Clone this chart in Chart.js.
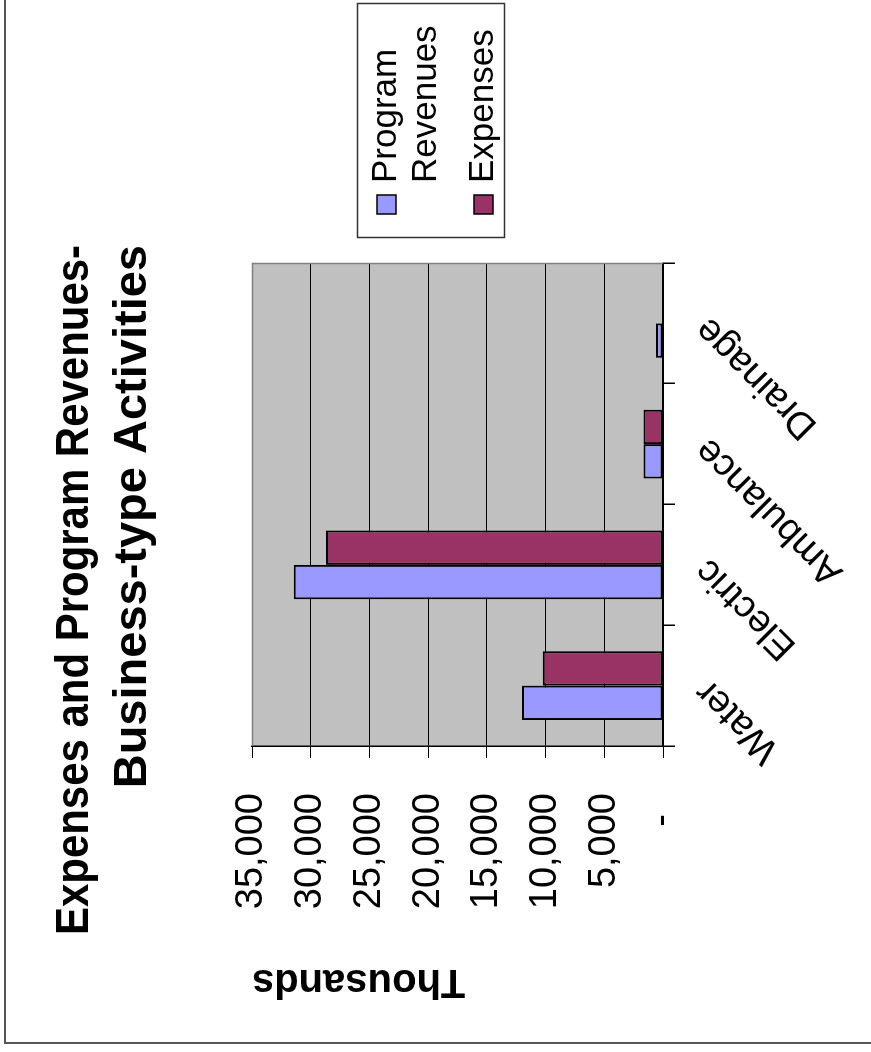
<!DOCTYPE html>
<html>
<head>
<meta charset="utf-8">
<script src="https://cdn.jsdelivr.net/npm/chart.js@4/dist/chart.umd.min.js"></script>
<style>
  html, body { margin: 0; padding: 0; background: #fff; width: 871px; height: 1052px; overflow: hidden; }
  /* The chart is laid out landscape, then turned a quarter turn counter-clockwise onto the portrait page */
  #stage { position: absolute; left: 0; top: 0; width: 1052px; height: 871px;
           transform-origin: 0 0; transform: translate(0, 1052px) rotate(-90deg); }
  canvas { display: block; }
</style>
</head>
<body>
<div id="stage"><canvas id="chart" width="1052" height="871"></canvas></div>
<script>
// Business-type activities, in thousands of dollars
const categories = ['Water', 'Electric', 'Ambulance', 'Drainage'];
const programRevenues = [12000, 31450, 1650, 600];
const expenses = [10250, 28700, 1650, 0];

const seriesNames = ['Program Revenues', 'Expenses'];
const seriesColors = ['#9999FF', '#993366'];

const valueTicks = [0, 5000, 10000, 15000, 20000, 25000, 30000, 35000];
const valueTickLabels = ['-', '5,000', '10,000', '15,000', '20,000', '25,000', '30,000', '35,000'];

const titleLines = ['Expenses and Program Revenues-', 'Business-type Activities'];
const unitLabel = 'Thousands';

const FONT = '"Liberation Sans", Arial, Helvetica, sans-serif';
Chart.defaults.font.family = FONT;
Chart.defaults.color = '#000';

// White page with the chart frame (top and left edges) and the grey plot area
const framePlugin = {
  id: 'frame',
  beforeDraw(chart) {
    const { ctx, width, height, chartArea: a } = chart;
    ctx.save();
    ctx.fillStyle = '#fff';
    ctx.fillRect(0, 0, width, height);
    ctx.strokeStyle = '#555';
    ctx.lineWidth = 2;
    ctx.beginPath();
    ctx.moveTo(9, height);
    ctx.lineTo(9, 5);
    ctx.lineTo(width, 5);
    ctx.stroke();
    ctx.fillStyle = '#C0C0C0';
    ctx.fillRect(a.left, a.top, a.right - a.left, a.bottom - a.top);
    ctx.restore();
  },
  beforeDatasetsDraw(chart) {
    const { ctx, chartArea: a } = chart;
    ctx.save();
    ctx.strokeStyle = '#808080';
    ctx.lineWidth = 1.5;
    ctx.beginPath();
    ctx.moveTo(a.left, a.top + 0.5);
    ctx.lineTo(a.right - 0.5, a.top + 0.5);
    ctx.lineTo(a.right - 0.5, a.bottom);
    ctx.stroke();
    ctx.restore();
  }
};

// Two-line bold title
const titlePlugin = {
  id: 'titleBlock',
  afterDraw(chart) {
    const { ctx } = chart;
    ctx.save();
    ctx.fillStyle = '#000';
    ctx.font = 'bold 47px ' + FONT;
    ctx.textAlign = 'right';
    ctx.textBaseline = 'alphabetic';
    const baselines = [88, 146];
    const widths = [690, 560];
    titleLines.forEach((t, i) => ctx.fillText(t, 807, baselines[i], widths[i]));
    ctx.restore();
  }
};

// Boxed legend with word-wrapped series names
const legendPlugin = {
  id: 'boxLegend',
  afterDraw(chart) {
    const { ctx } = chart;
    const box = { x: 814, y: 357, w: 234, h: 147 };
    const textX = 869, maxW = 175, lineH = 40;
    ctx.save();
    ctx.strokeStyle = '#333';
    ctx.lineWidth = 1.5;
    ctx.strokeRect(box.x + 0.5, box.y + 0.5, box.w, box.h);
    ctx.font = '35px ' + FONT;
    ctx.textBaseline = 'alphabetic';
    let baseline = 396;
    chart.data.datasets.forEach((ds) => {
      const words = ds.label.split(' ');
      const lines = [];
      let cur = '';
      words.forEach(w => {
        const test = cur ? cur + ' ' + w : w;
        if (cur && ctx.measureText(test).width > maxW) { lines.push(cur); cur = w; }
        else cur = test;
      });
      lines.push(cur);
      ctx.fillStyle = ds.backgroundColor;
      ctx.fillRect(838, baseline - 19, 19, 19);
      ctx.strokeStyle = '#000';
      ctx.lineWidth = 1.5;
      ctx.strokeRect(838, baseline - 19, 19, 19);
      ctx.fillStyle = '#000';
      lines.forEach((ln, k) => ctx.fillText(ln, textX, baseline + k * lineH));
      baseline += lines.length * lineH + 17;
    });
    ctx.restore();
  }
};

new Chart(document.getElementById('chart'), {
  type: 'bar',
  data: {
    labels: categories,
    datasets: [
      { label: seriesNames[0], data: programRevenues, backgroundColor: seriesColors[0],
        borderColor: '#000', borderWidth: 2, borderSkipped: false,
        categoryPercentage: 0.57, barPercentage: 1 },
      { label: seriesNames[1], data: expenses, backgroundColor: seriesColors[1],
        borderColor: '#000', borderWidth: 2, borderSkipped: false,
        categoryPercentage: 0.57, barPercentage: 1 }
    ]
  },
  options: {
    responsive: false,
    animation: false,
    devicePixelRatio: 1,
    layout: { padding: { left: 43, right: 263, top: 252, bottom: 0 } },
    plugins: {
      legend: { display: false },
      title: { display: false },
      tooltip: { enabled: false }
    },
    scales: {
      x: {
        grid: { display: true, drawOnChartArea: false, drawTicks: true, tickLength: 12,
                color: '#000', lineWidth: 1.5, offset: true },
        border: { display: true, color: '#000', width: 1.5 },
        ticks: { minRotation: 45, maxRotation: 45, autoSkip: false, padding: 11,
                 color: '#000', font: { size: 38 } },
        afterFit(scale) { scale.height = 208; }
      },
      y: {
        min: 0,
        max: 35000,
        afterBuildTicks(scale) { scale.ticks = valueTicks.map(v => ({ value: v })); },
        ticks: {
          padding: 35,
          color: '#000',
          font: { size: 38 },
          callback(value) {
            const t = valueTickLabels[valueTicks.indexOf(value)];
            return t === '-' ? '-  ' : t;
          }
        },
        grid: { color: '#000', lineWidth: 1, tickLength: 12, drawTicks: true },
        border: { display: true, color: '#000', width: 1.5 },
        title: { display: true, text: unitLabel, align: 'end', color: '#000',
                 font: { size: 40, weight: 'bold' }, padding: { top: 4, bottom: 4 } },
        afterFit(scale) { scale.width = 263; }
      }
    }
  },
  plugins: [framePlugin, titlePlugin, legendPlugin]
});
</script>
</body>
</html>
